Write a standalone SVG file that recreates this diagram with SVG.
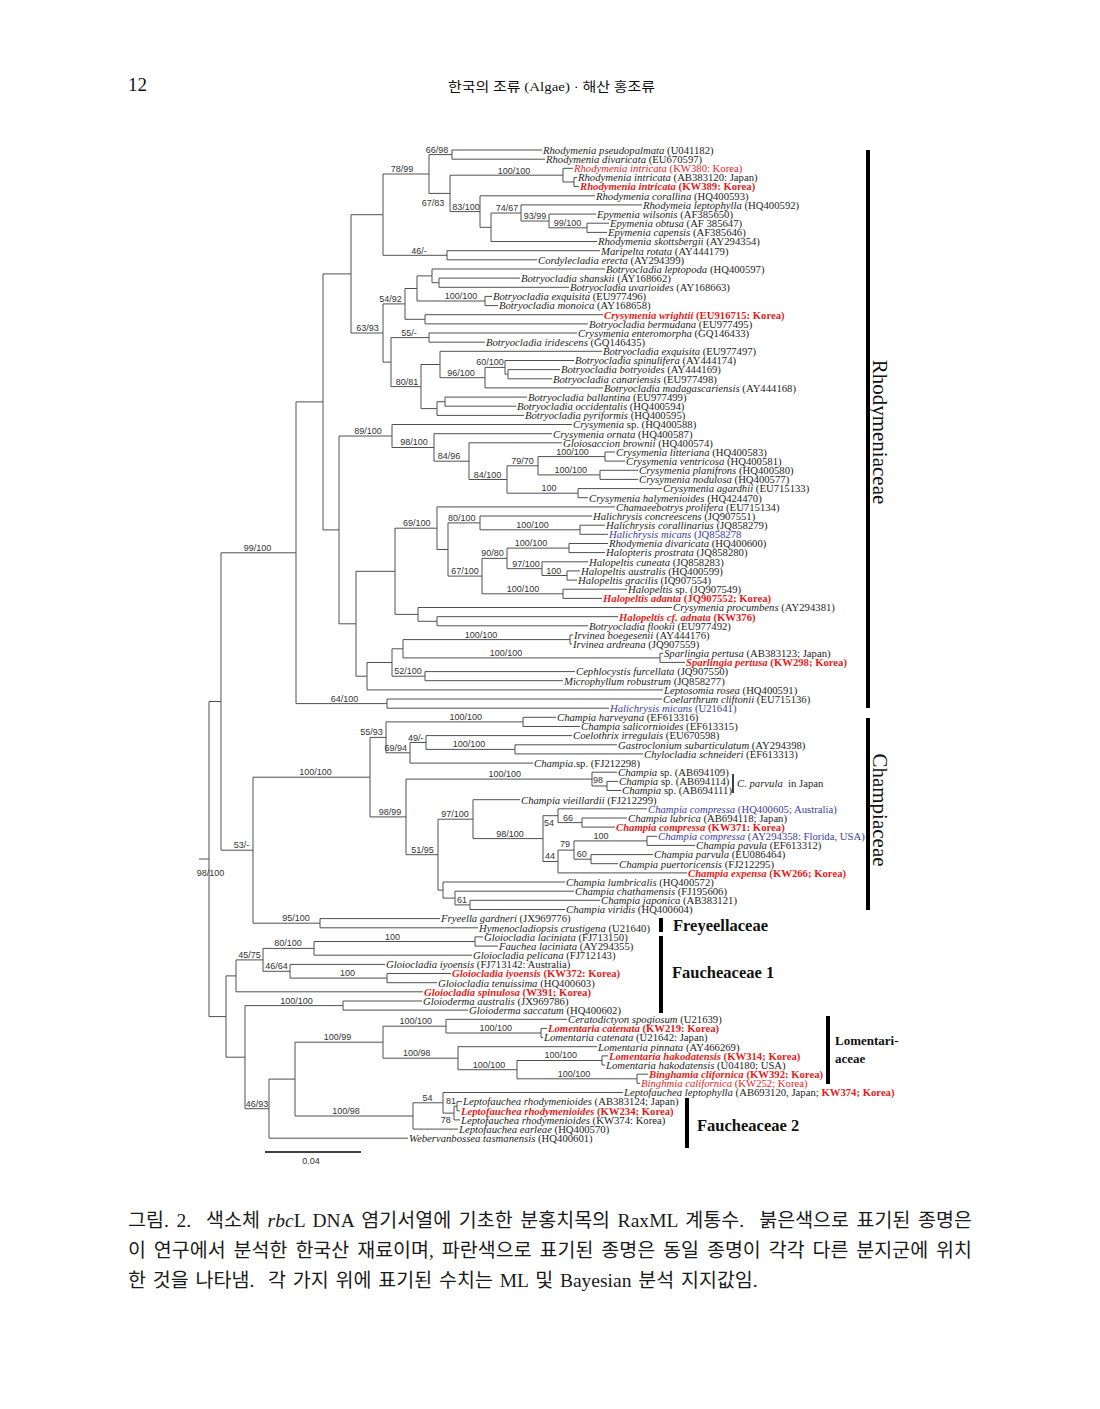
<svg xmlns="http://www.w3.org/2000/svg" width="1100" height="1409" viewBox="0 0 1100 1409">
<style>
.br{fill:none;stroke:#505050;stroke-width:1}
.lf{font-family:'Liberation Serif',serif;font-size:10.7px;fill:#1e1e1e}
.i{font-style:italic}
.r{fill:#e4262a}
.rb{fill:#e01e22;font-weight:bold}
.bu{fill:#3c3c9e}
.sp{font-family:'Liberation Sans',sans-serif;font-size:9px;fill:#333;text-anchor:middle}
.fam{font-family:'Liberation Serif',serif;font-weight:bold;font-size:16.5px;fill:#111}
.famr{font-family:'Liberation Serif',serif;font-size:21px;fill:#111;text-anchor:middle}
.bar{stroke:#000;stroke-width:4}
.cap{font-family:'Liberation Serif','Noto Sans CJK KR',serif;font-size:19.5px;fill:#1a1a1a}
</style>
<rect width="1100" height="1409" fill="#fff"/>
<g id="header">
<text x="128" y="91" style="font-family:'Liberation Serif',serif;font-size:19px;fill:#111">12</text>
<text x="448" y="91" textLength="207" lengthAdjust="spacingAndGlyphs" style="font-family:'Liberation Serif','Noto Sans CJK KR',serif;font-size:13px;fill:#111">한국의 조류 (Algae) · 해산 홍조류</text>
</g>
<g id="tree" class="br">
<path d="M452 150V159.2M452 150H542M452 159.2H545"/>
<path d="M574 177.5V186.6M574 177.5H577M574 186.6H579"/>
<path d="M563 168.3V182M563 168.3H573M563 182H574"/>
<path d="M587 223.2V232.4M587 223.2H609M587 232.4H607"/>
<path d="M549 214.1V227.8M549 214.1H596M549 227.8H587"/>
<path d="M521 204.9V221M521 204.9H642M521 221H549"/>
<path d="M491 213V241.5M491 213H521M491 241.5H597"/>
<path d="M480 195.8V227.3M480 195.8H595M480 227.3H491"/>
<path d="M450 175.2V211.6M450 175.2H563M450 211.6H480"/>
<path d="M429 154.6V193.4M429 154.6H452M429 193.4H450"/>
<path d="M447 250.7V259.8M447 250.7H600M447 259.8H537"/>
<path d="M383 174V255.3M383 174H429M383 255.3H447"/>
<path d="M439 278.1V287.3M439 278.1H520M439 287.3H569"/>
<path d="M432 269V282.7M432 269H605M432 282.7H439"/>
<path d="M485 296.4V305.6M485 296.4H492M485 305.6H498"/>
<path d="M417 275.9V301M417 275.9H432M417 301H485"/>
<path d="M425 314.7V323.9M425 314.7H603M425 323.9H588"/>
<path d="M405 288.5V319.3M405 288.5H417M405 319.3H425"/>
<path d="M429 333V342.2M429 333H577M429 342.2H485"/>
<path d="M508 369.6V378.8M508 369.6H560M508 378.8H552"/>
<path d="M505 360.5V374.2M505 360.5H574M505 374.2H508"/>
<path d="M485 367.4V387.9M485 367.4H505M485 387.9H603"/>
<path d="M440 351.3V377.7M440 351.3H602M440 377.7H485"/>
<path d="M445 397.1V406.2M445 397.1H527M445 406.2H516"/>
<path d="M437 401.7V415.4M437 401.7H445M437 415.4H524"/>
<path d="M421 364.5V408.6M421 364.5H440M421 408.6H437"/>
<path d="M391 337.6V386.6M391 337.6H429M391 386.6H421"/>
<path d="M383 303.9V362.1M383 303.9H405M383 362.1H391"/>
<path d="M351 214.7V333M351 214.7H383M351 333H383"/>
<path d="M605 452V461.1M605 452H615M605 461.1H625"/>
<path d="M600 470.3V479.4M600 470.3H638M600 479.4H638"/>
<path d="M538 456.6V474.9M538 456.6H605M538 474.9H600"/>
<path d="M578 488.6V497.7M578 488.6H662M578 497.7H588"/>
<path d="M507 465.8V493.2M507 465.8H538M507 493.2H578"/>
<path d="M469 442.8V479.5M469 442.8H562M469 479.5H507"/>
<path d="M434 433.7V461.2M434 433.7H552M434 461.2H469"/>
<path d="M392 424.5V447.5M392 424.5H572M392 447.5H434"/>
<path d="M580 525.2V534.3M580 525.2H605M580 534.3H608"/>
<path d="M480 516V529.8M480 516H592M480 529.8H580"/>
<path d="M569 543.5V552.6M569 543.5H608M569 552.6H605"/>
<path d="M567 570.9V580.1M567 570.9H580M567 580.1H577"/>
<path d="M542 561.8V575.5M542 561.8H588M542 575.5H567"/>
<path d="M507 548.1V568.7M507 548.1H569M507 568.7H542"/>
<path d="M563 589.2V598.4M563 589.2H627M563 598.4H602"/>
<path d="M482 558.4V593.8M482 558.4H507M482 593.8H563"/>
<path d="M448 522.9V576.1M448 522.9H480M448 576.1H482"/>
<path d="M437 506.9V549.5M437 506.9H615M437 549.5H448"/>
<path d="M437 616.7V625.8M437 616.7H618M437 625.8H588"/>
<path d="M418 607.5V621.3M418 607.5H672M418 621.3H437"/>
<path d="M395 528.2V614.4M395 528.2H437M395 614.4H418"/>
<path d="M570 635V644.1M570 635H573M570 644.1H572"/>
<path d="M660 653.3V662.4M660 653.3H663M660 662.4H685"/>
<path d="M403 639.6V657.9M403 639.6H570M403 657.9H660"/>
<path d="M425 671.6V680.7M425 671.6H575M425 680.7H563"/>
<path d="M392 648.8V676.2M392 648.8H403M392 676.2H425"/>
<path d="M367 662.5V689.9M367 662.5H392M367 689.9H663"/>
<path d="M356 571.3V676.2M356 571.3H395M356 676.2H367"/>
<path d="M339 436V623.8M339 436H392M339 623.8H356"/>
<path d="M323 273.9V529.9M323 273.9H351M323 529.9H339"/>
<path d="M387 699V708.2M387 699H662M387 708.2H609"/>
<path d="M296 401.9V703.6M296 401.9H323M296 703.6H387"/>
<path d="M523 717.3V726.5M523 717.3H556M523 726.5H580"/>
<path d="M515 744.8V753.9M515 744.8H617M515 753.9H643"/>
<path d="M426 735.6V749.4M426 735.6H572M426 749.4H515"/>
<path d="M410 742.5V763.1M410 742.5H426M410 763.1H533"/>
<path d="M386 721.9V752.8M386 721.9H523M386 752.8H410"/>
<path d="M607 781.4V790.5M607 781.4H618M607 790.5H621"/>
<path d="M592 772.2V786M592 772.2H617M592 786H607"/>
<path d="M582 818V827.1M582 818H627M582 827.1H615"/>
<path d="M558 808.8V822.6M558 808.8H647M558 822.6H582"/>
<path d="M647 836.3V845.4M647 836.3H657M647 845.4H695"/>
<path d="M591 854.6V863.7M591 854.6H653M591 863.7H618"/>
<path d="M574 840.9V859.2M574 840.9H647M574 859.2H591"/>
<path d="M558 850.1V872.9M558 850.1H574M558 872.9H687"/>
<path d="M543 815.7V861.5M543 815.7H558M543 861.5H558"/>
<path d="M473 799.7V838.6M473 799.7H520M473 838.6H543"/>
<path d="M470 900.3V909.5M470 900.3H600M470 909.5H565"/>
<path d="M455 891.2V904.9M455 891.2H574M455 904.9H470"/>
<path d="M443 882V898.1M443 882H565M443 898.1H455"/>
<path d="M438 819.2V890.1M438 819.2H473M438 890.1H443"/>
<path d="M406 779.1V854.7M406 779.1H592M406 854.7H438"/>
<path d="M370 737.4V816.9M370 737.4H386M370 816.9H406"/>
<path d="M320 918.6V927.8M320 918.6H440M320 927.8H478"/>
<path d="M253 777.2V923.2M253 777.2H370M253 923.2H320"/>
<path d="M221 552.8V850.2M221 552.8H296M221 850.2H253"/>
<path d="M475 936.9V946.1M475 936.9H483M475 946.1H498"/>
<path d="M314 941.5V955.2M314 941.5H475M314 955.2H472"/>
<path d="M387 973.5V982.7M387 973.5H451M387 982.7H437"/>
<path d="M290 964.4V978.1M290 964.4H385M290 978.1H387"/>
<path d="M263 948.4V971.3M263 948.4H314M263 971.3H290"/>
<path d="M236 959.9V991.8M236 959.9H263M236 991.8H423"/>
<path d="M343 1001V1010.1M343 1001H422M343 1010.1H468"/>
<path d="M541 1028.4V1037.6M541 1028.4H547M541 1037.6H543"/>
<path d="M446 1019.3V1033M446 1019.3H567M446 1033H541"/>
<path d="M602 1055.9V1065M602 1055.9H608M602 1065H605"/>
<path d="M637 1074.2V1083.3M637 1074.2H648M637 1083.3H640"/>
<path d="M517 1060.5V1078.8M517 1060.5H602M517 1078.8H637"/>
<path d="M458 1046.7V1069.7M458 1046.7H597M458 1069.7H517"/>
<path d="M383 1026.2V1058.2M383 1026.2H446M383 1058.2H458"/>
<path d="M457 1101.6V1110.8M457 1101.6H462M457 1110.8H460"/>
<path d="M454 1106.2V1119.9M454 1106.2H457M454 1119.9H460"/>
<path d="M443 1092.5V1113.1M443 1092.5H623M443 1113.1H454"/>
<path d="M413 1102.8V1129.1M413 1102.8H443M413 1129.1H458"/>
<path d="M295 1042.2V1116M295 1042.2H383M295 1116H413"/>
<path d="M269 1079.1V1138.2M269 1079.1H295M269 1138.2H408"/>
<path d="M245 1005.6V1108.7M245 1005.6H343M245 1108.7H269"/>
<path d="M226 975.9V1057.2M226 975.9H236M226 1057.2H245"/>
<path d="M209 701.5V1016.6M209 701.5H221M209 1016.6H226"/>
<path d="M199 859H209"/>
</g>
<g id="support">
<text class="sp" x="437" y="153">66/98</text>
<text class="sp" x="402" y="172">78/99</text>
<text class="sp" x="514" y="173.5">100/100</text>
<text class="sp" x="433" y="206">67/83</text>
<text class="sp" x="466" y="209.5">83/100</text>
<text class="sp" x="507" y="211">74/67</text>
<text class="sp" x="535" y="219">93/99</text>
<text class="sp" x="567.5" y="226">99/100</text>
<text class="sp" x="419" y="253.5">46/-</text>
<text class="sp" x="390.5" y="302">54/92</text>
<text class="sp" x="461" y="299">100/100</text>
<text class="sp" x="367.5" y="331">63/93</text>
<text class="sp" x="409" y="335.6">55/-</text>
<text class="sp" x="490" y="365.4">60/100</text>
<text class="sp" x="461" y="375.6">96/100</text>
<text class="sp" x="407" y="384.5">80/81</text>
<text class="sp" x="368" y="434">89/100</text>
<text class="sp" x="414" y="445.4">98/100</text>
<text class="sp" x="449" y="459">84/96</text>
<text class="sp" x="572.5" y="454.5">100/100</text>
<text class="sp" x="522.5" y="463.7">79/70</text>
<text class="sp" x="570.8" y="472.8">100/100</text>
<text class="sp" x="487.5" y="477.5">84/100</text>
<text class="sp" x="549" y="491">100</text>
<text class="sp" x="416.7" y="526">69/100</text>
<text class="sp" x="461.7" y="521">80/100</text>
<text class="sp" x="532.5" y="527.7">100/100</text>
<text class="sp" x="531" y="546">100/100</text>
<text class="sp" x="492.5" y="556.3">90/80</text>
<text class="sp" x="526" y="566.6">97/100</text>
<text class="sp" x="553.7" y="573.5">100</text>
<text class="sp" x="465" y="574">67/100</text>
<text class="sp" x="523" y="591.8">100/100</text>
<text class="sp" x="481" y="637.5">100/100</text>
<text class="sp" x="506" y="655.8">100/100</text>
<text class="sp" x="408" y="674">52/100</text>
<text class="sp" x="344.5" y="701.6">64/100</text>
<text class="sp" x="257.5" y="550.7">99/100</text>
<text class="sp" x="465.8" y="720">100/100</text>
<text class="sp" x="371.5" y="735.3">55/93</text>
<text class="sp" x="415.8" y="740.5">49/-</text>
<text class="sp" x="395.8" y="750.8">69/94</text>
<text class="sp" x="469" y="747.3">100/100</text>
<text class="sp" x="315.5" y="775">100/100</text>
<text class="sp" x="504.7" y="777">100/100</text>
<text class="sp" x="598" y="783">98</text>
<text class="sp" x="390" y="814.8">98/99</text>
<text class="sp" x="455" y="817">97/100</text>
<text class="sp" x="549" y="826">54</text>
<text class="sp" x="568" y="820.5">66</text>
<text class="sp" x="510" y="836.6">98/100</text>
<text class="sp" x="422.5" y="852.6">51/95</text>
<text class="sp" x="601" y="838.8">100</text>
<text class="sp" x="565" y="847">79</text>
<text class="sp" x="581.7" y="857">60</text>
<text class="sp" x="550" y="859.4">44</text>
<text class="sp" x="462" y="903">61</text>
<text class="sp" x="241.5" y="848">53/-</text>
<text class="sp" x="296" y="921">95/100</text>
<text class="sp" x="210.5" y="876">98/100</text>
<text class="sp" x="392.5" y="939.5">100</text>
<text class="sp" x="288" y="946.3">80/100</text>
<text class="sp" x="249.5" y="957.8">45/75</text>
<text class="sp" x="276.5" y="969.2">46/64</text>
<text class="sp" x="347.5" y="976">100</text>
<text class="sp" x="296.5" y="1003.5">100/100</text>
<text class="sp" x="337.5" y="1040">100/99</text>
<text class="sp" x="415.8" y="1024">100/100</text>
<text class="sp" x="495.8" y="1031">100/100</text>
<text class="sp" x="416.7" y="1056">100/98</text>
<text class="sp" x="489" y="1067.6">100/100</text>
<text class="sp" x="560.8" y="1058.4">100/100</text>
<text class="sp" x="574" y="1076.7">100/100</text>
<text class="sp" x="346" y="1114">100/98</text>
<text class="sp" x="257" y="1106.6">46/93</text>
<text class="sp" x="427.5" y="1100.7">54</text>
<text class="sp" x="451" y="1104">81</text>
<text class="sp" x="445.8" y="1123">78</text>
</g>
<g id="leaves" class="lf">
<g id="t1"><text x="543" y="153.8"><tspan class="i">Rhodymenia pseudopalmata</tspan> (U041182)</text></g>
<g id="t2"><text x="546" y="163"><tspan class="i">Rhodymenia divaricata</tspan> (EU670597)</text></g>
<g id="t3"><text class="r" x="574" y="172.1"><tspan class="i">Rhodymenia intricata</tspan> (KW380: Korea)</text></g>
<g id="t4"><text x="578" y="181.3"><tspan class="i">Rhodymenia intricata</tspan> (AB383120: Japan)</text></g>
<g id="t5"><text class="rb" x="580" y="190.4"><tspan class="i">Rhodymenia intricata</tspan> (KW389: Korea)</text></g>
<g id="t6"><text x="596" y="199.6"><tspan class="i">Rhodymenia corallina</tspan> (HQ400593)</text></g>
<g id="t7"><text x="643" y="208.7"><tspan class="i">Rhodymeia leptophylla</tspan> (HQ400592)</text></g>
<g id="t8"><text x="597" y="217.9"><tspan class="i">Epymenia wilsonis</tspan> (AF385650)</text></g>
<g id="t9"><text x="610" y="227"><tspan class="i">Epymenia obtusa</tspan> (AF 385647)</text></g>
<g id="t10"><text x="608" y="236.2"><tspan class="i">Epymenia capensis</tspan> (AF385646)</text></g>
<g id="t11"><text x="598" y="245.3"><tspan class="i">Rhodymenia skottsbergii</tspan> (AY294354)</text></g>
<g id="t12"><text x="601" y="254.5"><tspan class="i">Maripelta rotata</tspan> (AY444179)</text></g>
<g id="t13"><text x="538" y="263.6"><tspan class="i">Cordylecladia erecta</tspan> (AY294399)</text></g>
<g id="t14"><text x="606" y="272.8"><tspan class="i">Botryocladia leptopoda</tspan> (HQ400597)</text></g>
<g id="t15"><text x="521" y="281.9"><tspan class="i">Botryocladia shanskii</tspan> (AY168662)</text></g>
<g id="t16"><text x="570" y="291.1"><tspan class="i">Botryocladia uvarioides</tspan> (AY168663)</text></g>
<g id="t17"><text x="493" y="300.2"><tspan class="i">Botryocladia exquisita</tspan> (EU977496)</text></g>
<g id="t18"><text x="499" y="309.4"><tspan class="i">Botryocladia monoica</tspan> (AY168658)</text></g>
<g id="t19"><text class="rb" x="604" y="318.5"><tspan class="i">Crysymenia wrightii</tspan> (EU916715: Korea)</text></g>
<g id="t20"><text x="589" y="327.7"><tspan class="i">Botryocladia bermudana</tspan> (EU977495)</text></g>
<g id="t21"><text x="578" y="336.8"><tspan class="i">Crysymenia enteromorpha</tspan> (GQ146433)</text></g>
<g id="t22"><text x="486" y="346"><tspan class="i">Botryocladia iridescens</tspan> (GQ146435)</text></g>
<g id="t23"><text x="603" y="355.1"><tspan class="i">Botryocladia exquisita</tspan> (EU977497)</text></g>
<g id="t24"><text x="575" y="364.3"><tspan class="i">Botryocladia spinulifera</tspan> (AY444174)</text></g>
<g id="t25"><text x="561" y="373.4"><tspan class="i">Botryocladia botryoides</tspan> (AY444169)</text></g>
<g id="t26"><text x="553" y="382.6"><tspan class="i">Botryocladia canariensis</tspan> (EU977498)</text></g>
<g id="t27"><text x="604" y="391.7"><tspan class="i">Botryocladia madagascariensis</tspan> (AY444168)</text></g>
<g id="t28"><text x="528" y="400.9"><tspan class="i">Botryocladia ballantina</tspan> (EU977499)</text></g>
<g id="t29"><text x="517" y="410"><tspan class="i">Botryocladia occidentalis</tspan> (HQ400594)</text></g>
<g id="t30"><text x="525" y="419.2"><tspan class="i">Botryocladia pyriformis</tspan> (HQ400595)</text></g>
<g id="t31"><text x="573" y="428.3"><tspan class="i">Crysymenia</tspan> sp. (HQ400588)</text></g>
<g id="t32"><text x="553" y="437.5"><tspan class="i">Crysymenia ornata</tspan> (HQ400587)</text></g>
<g id="t33"><text x="563" y="446.6"><tspan class="i">Gloiosaccion brownii</tspan> (HQ400574)</text></g>
<g id="t34"><text x="616" y="455.8"><tspan class="i">Crysymenia litteriana</tspan> (HQ400583)</text></g>
<g id="t35"><text x="626" y="464.9"><tspan class="i">Crysymenia ventricosa</tspan> (HQ400581)</text></g>
<g id="t36"><text x="639" y="474.1"><tspan class="i">Crysymenia planifrons</tspan> (HQ400580)</text></g>
<g id="t37"><text x="639" y="483.2"><tspan class="i">Crysymenia nodulosa</tspan> (HQ400577)</text></g>
<g id="t38"><text x="663" y="492.4"><tspan class="i">Crysymenia agardhii</tspan> (EU715133)</text></g>
<g id="t39"><text x="589" y="501.5"><tspan class="i">Crysymenia halymenioides</tspan> (HQ424470)</text></g>
<g id="t40"><text x="616" y="510.7"><tspan class="i">Chamaeebotrys prolifera</tspan> (EU715134)</text></g>
<g id="t41"><text x="593" y="519.8"><tspan class="i">Halichrysis concreescens</tspan> (JQ907551)</text></g>
<g id="t42"><text x="606" y="529"><tspan class="i">Halichrysis corallinarius</tspan> (JQ858279)</text></g>
<g id="t43"><text class="bu" x="609" y="538.1"><tspan class="i">Halichrysis micans</tspan> (JQ858278</text></g>
<g id="t44"><text x="609" y="547.3"><tspan class="i">Rhodymenia divaricata</tspan> (HQ400600)</text></g>
<g id="t45"><text x="606" y="556.4"><tspan class="i">Halopteris prostrata</tspan> (JQ858280)</text></g>
<g id="t46"><text x="589" y="565.6"><tspan class="i">Halopeltis cuneata</tspan> (JQ858283)</text></g>
<g id="t47"><text x="581" y="574.7"><tspan class="i">Halopeltis australis</tspan> (HQ400599)</text></g>
<g id="t48"><text x="578" y="583.9"><tspan class="i">Halopeltis gracilis</tspan> (IQ907554)</text></g>
<g id="t49"><text x="628" y="593"><tspan class="i">Halopeltis</tspan> sp. (JQ907549)</text></g>
<g id="t50"><text class="rb" x="603" y="602.2"><tspan class="i">Halopeltis adanta</tspan> (JQ907552; Korea)</text></g>
<g id="t51"><text x="673" y="611.3"><tspan class="i">Crysymenia procumbens</tspan> (AY294381)</text></g>
<g id="t52"><text class="rb" x="619" y="620.5"><tspan class="i">Halopeltis cf. adnata</tspan> (KW376)</text></g>
<g id="t53"><text x="589" y="629.6"><tspan class="i">Botryocladia flookii</tspan> (EU977492)</text></g>
<g id="t54"><text x="574" y="638.8"><tspan class="i">Irvinea boegesenii</tspan> (AY444176)</text></g>
<g id="t55"><text x="573" y="647.9"><tspan class="i">Irvinea ardreana</tspan> (JQ907559)</text></g>
<g id="t56"><text x="664" y="657.1"><tspan class="i">Sparlingia pertusa</tspan> (AB383123; Japan)</text></g>
<g id="t57"><text class="rb" x="686" y="666.2"><tspan class="i">Sparlingia pertusa</tspan> (KW298; Korea)</text></g>
<g id="t58"><text x="576" y="675.4"><tspan class="i">Cephlocystis furcellata</tspan> (JQ907550)</text></g>
<g id="t59"><text x="564" y="684.5"><tspan class="i">Microphyllum robustrum</tspan> (JQ858277)</text></g>
<g id="t60"><text x="664" y="693.7"><tspan class="i">Leptosomia rosea</tspan> (HQ400591)</text></g>
<g id="t61"><text x="663" y="702.8"><tspan class="i">Coelarthrum cliftonii</tspan> (EU715136)</text></g>
<g id="t62"><text class="bu" x="610" y="712"><tspan class="i">Halichrysis micans</tspan> (U21641)</text></g>
<g id="t63"><text x="557" y="721.1"><tspan class="i">Champia harveyana</tspan> (EF613316)</text></g>
<g id="t64"><text x="581" y="730.3"><tspan class="i">Champia salicornioides</tspan> (EF613315)</text></g>
<g id="t65"><text x="573" y="739.4"><tspan class="i">Coelothrix irregulais</tspan> (EU670598)</text></g>
<g id="t66"><text x="618" y="748.6"><tspan class="i">Gastroclonium subarticulatum</tspan> (AY294398)</text></g>
<g id="t67"><text x="644" y="757.7"><tspan class="i">Chylocladia schneideri</tspan> (EF613313)</text></g>
<g id="t68"><text x="534" y="766.9"><tspan class="i">Champia</tspan>.sp. (FJ212298)</text></g>
<g id="t69"><text x="618" y="776"><tspan class="i">Champia</tspan> sp. (AB694109)</text></g>
<g id="t70"><text x="619" y="785.2"><tspan class="i">Champia</tspan> sp. (AB694114)</text></g>
<g id="t71"><text x="622" y="794.3"><tspan class="i">Champia</tspan> sp. (AB694111)</text></g>
<g id="t72"><text x="521" y="803.5"><tspan class="i">Champia vieillardii</tspan> (FJ212299)</text></g>
<g id="t73"><text class="bu" x="648" y="812.6"><tspan class="i">Champia compressa</tspan> (HQ400605; Australia)</text></g>
<g id="t74"><text x="628" y="821.8"><tspan class="i">Champia lubrica</tspan> (AB694118; Japan)</text></g>
<g id="t75"><text class="rb" x="616" y="830.9"><tspan class="i">Champia compressa</tspan> (KW371: Korea)</text></g>
<g id="t76"><text class="bu" x="658" y="840.1"><tspan class="i">Champia compressa</tspan> (AY294358: Florida, USA)</text></g>
<g id="t77"><text x="696" y="849.2"><tspan class="i">Champia pavula</tspan> (EF613312)</text></g>
<g id="t78"><text x="654" y="858.4"><tspan class="i">Champia parvula</tspan> (EU086464)</text></g>
<g id="t79"><text x="619" y="867.5"><tspan class="i">Champia puertoricensis</tspan> (FJ212295)</text></g>
<g id="t80"><text class="rb" x="688" y="876.7"><tspan class="i">Champia expensa</tspan> (KW266; Korea)</text></g>
<g id="t81"><text x="566" y="885.8"><tspan class="i">Champia lumbricalis</tspan> (HQ400572)</text></g>
<g id="t82"><text x="575" y="895"><tspan class="i">Champia chathamensis</tspan> (FJ195606)</text></g>
<g id="t83"><text x="601" y="904.1"><tspan class="i">Champia japonica</tspan> (AB383121)</text></g>
<g id="t84"><text x="566" y="913.3"><tspan class="i">Champia viridis</tspan> (HQ400604)</text></g>
<g id="t85"><text x="441" y="922.4"><tspan class="i">Fryeella gardneri</tspan> (JX969776)</text></g>
<g id="t86"><text x="479" y="931.6"><tspan class="i">Hymenocladiopsis crustigena</tspan> (U21640)</text></g>
<g id="t87"><text x="484" y="940.7"><tspan class="i">Gloiocladia laciniata</tspan> (FJ713150)</text></g>
<g id="t88"><text x="499" y="949.9"><tspan class="i">Fauchea laciniata</tspan> (AY294355)</text></g>
<g id="t89"><text x="473" y="959"><tspan class="i">Gloiocladia pelicana</tspan> (FJ712143)</text></g>
<g id="t90"><text x="386" y="968.2"><tspan class="i">Gloiocladia iyoensis</tspan> (FJ713142: Australia)</text></g>
<g id="t91"><text class="rb" x="452" y="977.3"><tspan class="i">Gloiocladia iyoensis</tspan> (KW372: Korea)</text></g>
<g id="t92"><text x="438" y="986.5"><tspan class="i">Gloiocladia tenuissima</tspan> (HQ400603)</text></g>
<g id="t93"><text class="rb" x="424" y="995.6"><tspan class="i">Gloiocladia spinulosa</tspan> (W391; Korea)</text></g>
<g id="t94"><text x="423" y="1004.8"><tspan class="i">Gloioderma australis</tspan> (JX969786)</text></g>
<g id="t95"><text x="469" y="1013.9"><tspan class="i">Gloioderma saccatum</tspan> (HQ400602)</text></g>
<g id="t96"><text x="568" y="1023.1"><tspan class="i">Ceratodictyon spogiosum</tspan> (U21639)</text></g>
<g id="t97"><text class="rb" x="548" y="1032.2"><tspan class="i">Lomentaria catenata</tspan> (KW219: Korea)</text></g>
<g id="t98"><text x="544" y="1041.4"><tspan class="i">Lomentaria catenata</tspan> (U21642: Japan)</text></g>
<g id="t99"><text x="598" y="1050.5"><tspan class="i">Lomentaria pinnata</tspan> (AY466269)</text></g>
<g id="t100"><text class="rb" x="609" y="1059.7"><tspan class="i">Lomentaria hakodatensis</tspan> (KW314; Korea)</text></g>
<g id="t101"><text x="606" y="1068.8"><tspan class="i">Lomentaria hakodatensis</tspan> (U04180; USA)</text></g>
<g id="t102"><text class="rb" x="649" y="1078"><tspan class="i">Binghamia clifornica</tspan> (KW392: Korea)</text></g>
<g id="t103"><text class="r" x="641" y="1087.1"><tspan class="i">Binghmia californica</tspan> (KW252; Korea)</text></g>
<g id="t104"><text x="624" y="1096.3"><tspan class="i">Leptofauchea leptophylla</tspan> (AB693120, Japan; <tspan class="rb">KW374; Korea)</tspan></text></g>
<g id="t105"><text x="463" y="1105.4"><tspan class="i">Leptofauchea rhodymenioides</tspan> (AB383124; Japan)</text></g>
<g id="t106"><text class="rb" x="461" y="1114.6"><tspan class="i">Leptofauchea rhodymenioides</tspan> (KW234; Korea)</text></g>
<g id="t107"><text x="461" y="1123.7"><tspan class="i">Leptofauchea rhodymenioides</tspan> (KW374: Korea)</text></g>
<g id="t108"><text x="459" y="1132.9"><tspan class="i">Leptofauchea earleae</tspan> (HQ400570)</text></g>
<g id="t109"><text x="409" y="1142"><tspan class="i">Webervanbossea tasmanensis</tspan> (HQ400601)</text></g>
</g>
<g id="cparvula">
<line x1="733" y1="774" x2="733" y2="793" stroke="#000" stroke-width="1.5"/>
<text class="lf" x="737" y="786.5" xml:space="preserve"><tspan class="i">C. parvula</tspan>  in Japan</text>
</g>
<g id="families">
<line class="bar" x1="868" y1="150" x2="868" y2="708"/>
<text class="famr" transform="translate(873 432) rotate(90)">Rhodymeniaceae</text>
<line class="bar" x1="868" y1="718" x2="868" y2="910"/>
<text class="famr" transform="translate(873 810) rotate(90)">Champiaceae</text>
<line class="bar" x1="661" y1="918" x2="661" y2="932"/>
<text class="fam" x="673" y="931">Freyeellaceae</text>
<line class="bar" x1="661" y1="936" x2="661" y2="1013"/>
<text class="fam" x="672" y="978">Faucheaceae 1</text>
<line class="bar" x1="828" y1="1016" x2="828" y2="1084"/>
<text class="fam" x="835" y="1045" style="font-size:13px">Lomentari-</text>
<text class="fam" x="835" y="1063" style="font-size:13px">aceae</text>
<line class="bar" x1="687" y1="1098" x2="687" y2="1148"/>
<text class="fam" x="697" y="1131">Faucheaceae 2</text>
</g>
<g id="scale">
<line x1="265" y1="1152" x2="361" y2="1152" stroke="#000" stroke-width="1.5"/>
<text class="sp" x="311" y="1164">0.04</text>
</g>
<g id="caption" class="cap">
<text x="128" y="1227" textLength="844" lengthAdjust="spacing" style="word-spacing:2.6px" xml:space="preserve">그림. 2.  색소체 <tspan font-style="italic">rbc</tspan>L DNA 염기서열에 기초한 분홍치목의 RaxML 계통수.  붉은색으로 표기된 종명은</text>
<text x="128" y="1257" textLength="844" lengthAdjust="spacing" style="word-spacing:3px" xml:space="preserve">이 연구에서 분석한 한국산 재료이며, 파란색으로 표기된 종명은 동일 종명이 각각 다른 분지군에 위치</text>
<text x="128" y="1287" style="word-spacing:2px" xml:space="preserve">한 것을 나타냄.  각 가지 위에 표기된 수치는 ML 및 Bayesian 분석 지지값임.</text>
</g>
</svg>
